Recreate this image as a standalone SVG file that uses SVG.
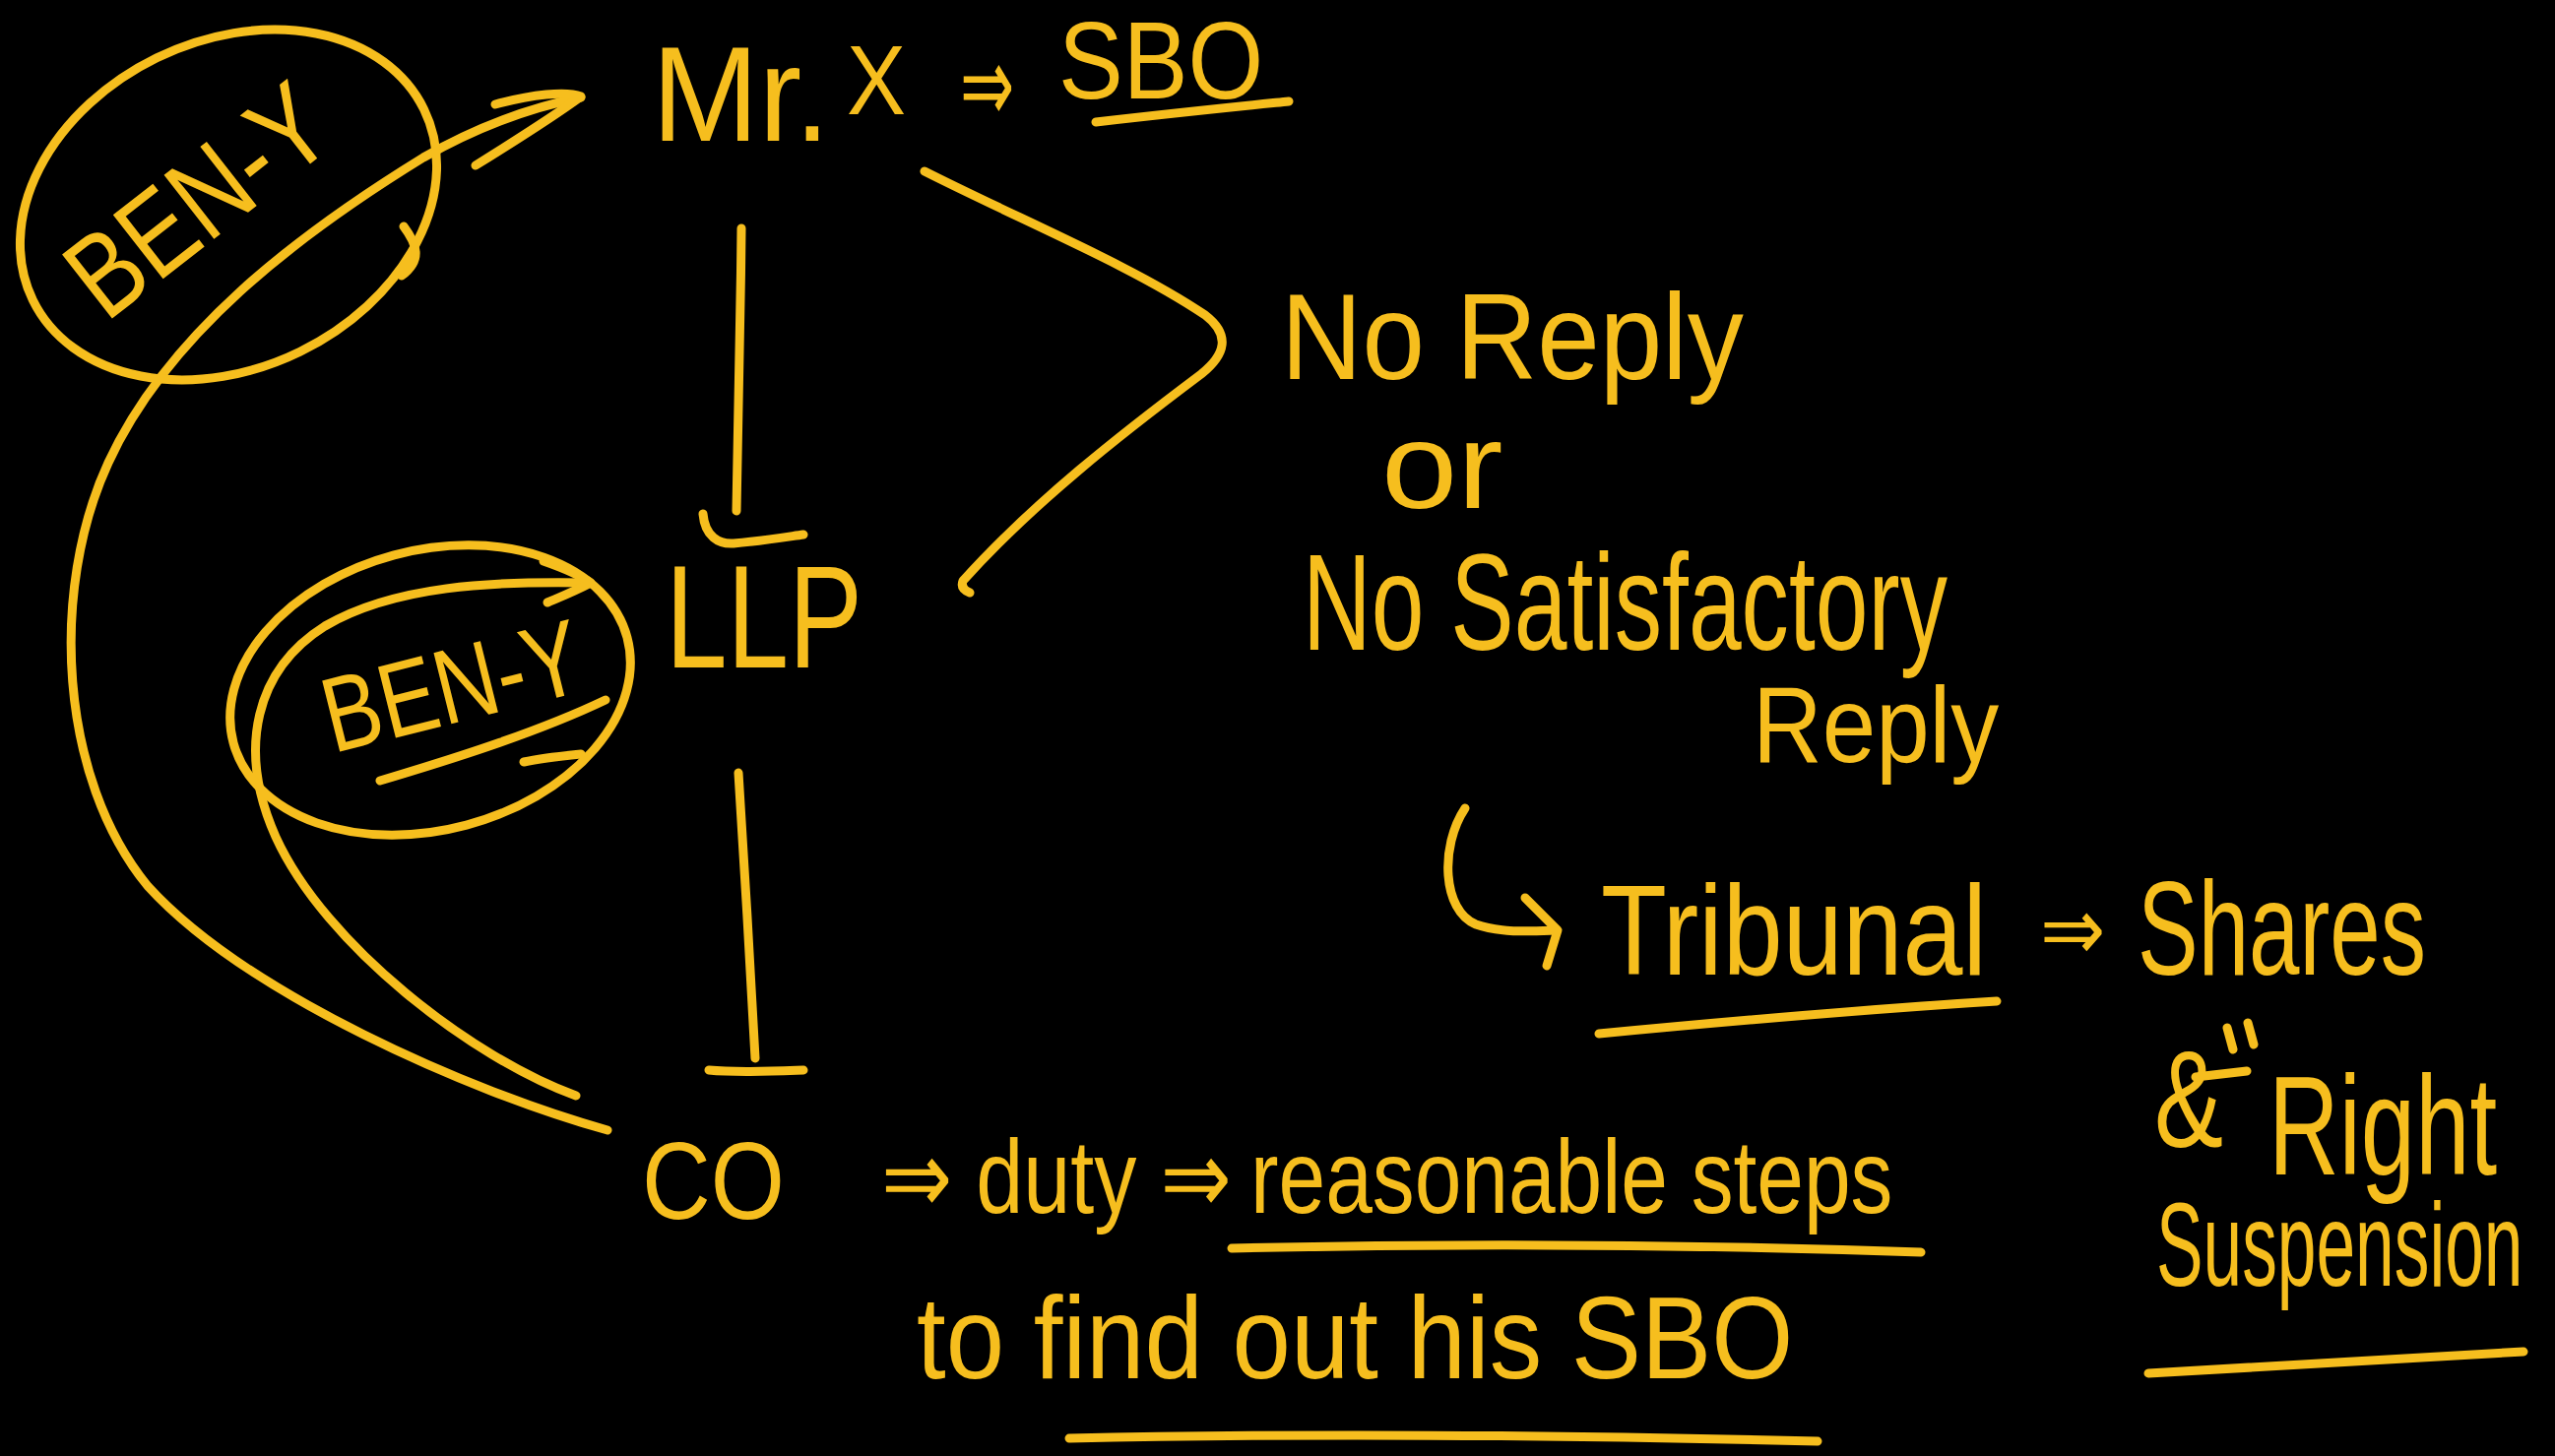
<svg xmlns="http://www.w3.org/2000/svg" width="2595" height="1479" viewBox="0 0 2595 1479">
  <style>
    .ink { fill: none; stroke: #F6BE1E; stroke-width: 9; stroke-linecap: round; stroke-linejoin: round; }
    .hand { fill: #F6BE1E; font-family: "Liberation Sans", "DejaVu Sans", sans-serif; font-weight: 400; }
  </style>
  <rect x="0" y="0" width="2595" height="1479" fill="#000000"/>

  <!-- connectors: ownership chain, brackets and pointer arrows -->
  <g id="connectors">
    <!-- Mr. X down to LLP -->
    <path class="ink" d="M753,232 C752,330 750,430 748,519"/>
    <path class="ink" d="M714,522 C716,545 730,553 745,552 C770,550 795,546 816,543"/>
    <!-- LLP down to CO -->
    <path class="ink" d="M750,785 C756,880 762,980 767,1075"/>
    <path class="ink" d="M720,1087 C750,1090 790,1088 816,1087"/>
    <!-- long curve from CO up to Mr. X -->
    <path class="ink" d="M617,1148 C480,1110 250,1010 150,900 C60,790 50,600 110,470 C170,340 300,240 430,160 C500,120 560,105 590,99"/>
    <path class="ink" d="M503,106 C540,96 575,92 590,98 C560,120 520,145 483,168"/>
    <!-- inner curve from CO up to LLP -->
    <path class="ink" d="M585,1113 C480,1075 330,960 280,850 C240,760 260,680 330,636 C400,595 500,590 599,592"/>
    <path class="ink" d="M552,570 C575,578 590,585 600,592 C585,600 570,606 556,612"/>
    <!-- bracket from Mr. X / LLP to the reply outcomes -->
    <path class="ink" d="M939,174 C1040,225 1150,270 1224,320 C1250,340 1245,360 1220,380 C1140,440 1050,510 978,590 Q975,598 985,602"/>
    <!-- hook arrow to Tribunal -->
    <path class="ink" d="M1488,821 C1462,860 1465,925 1499,939 C1525,948 1555,946 1580,945"/>
    <path class="ink" d="M1549,912 L1582,945 L1571,981"/>
  </g>

  <!-- beneficial owner, top -->
  <g id="ben-y-top">
    <ellipse class="ink" cx="232" cy="208" rx="221" ry="166" transform="rotate(-26 232 208)"/>
    <path class="ink" d="M410,230 C425,250 428,265 408,280"/>
    <text class="hand" font-size="120" text-anchor="middle" transform="translate(226 236) rotate(-38) scale(0.82 1)">BEN-Y</text>
  </g>

  <!-- beneficial owner, bottom -->
  <g id="ben-y-bottom">
    <ellipse class="ink" cx="437" cy="701" rx="207" ry="142" transform="rotate(-15 437 701)"/>
    <path class="ink" d="M532,774 C550,770 570,768 590,766"/>
    <text class="hand" font-size="108" text-anchor="middle" transform="translate(468 733) rotate(-14) scale(0.81 1)">BEN-Y</text>
    <path class="ink" d="M386,793 C470,768 550,742 615,711"/>
  </g>

  <!-- Mr. X => SBO -->
  <g id="mr-x">
    <text class="hand" font-size="138" transform="translate(662 143) scale(0.945 1)">Mr.</text>
    <text class="hand" font-size="100" transform="translate(860 116) scale(0.9 1)">X</text>
    <text class="hand" font-size="110" transform="translate(975 124) scale(0.6 1)">⇒</text>
    <text class="hand" font-size="112" transform="translate(1075 100) scale(0.88 1)">SBO</text>
    <path class="ink" d="M1113,124 C1200,114 1260,108 1309,103"/>
  </g>

  <!-- LLP -->
  <g id="llp">
    <text class="hand" font-size="148" transform="translate(676 678) scale(0.76 1)">LLP</text>
  </g>

  <!-- CO with its duty -->
  <g id="co">
    <text class="hand" font-size="112" transform="translate(652 1238) scale(0.863 1)">CO</text>
    <text class="hand" font-size="105" transform="translate(895 1232) scale(0.822 1)">⇒ duty ⇒</text>
    <text class="hand" font-size="105" transform="translate(1270 1232) scale(0.816 1)">reasonable steps</text>
    <path class="ink" d="M1251,1268 C1500,1262 1750,1265 1951,1272"/>
    <text class="hand" font-size="118" transform="translate(931 1400) scale(0.905 1)">to find out his SBO</text>
    <path class="ink" d="M1086,1461 C1350,1455 1600,1458 1846,1464"/>
  </g>

  <!-- reply outcomes -->
  <g id="reply">
    <text class="hand" font-size="125" transform="translate(1301 385) scale(0.914 1)">No Reply</text>
    <text class="hand" font-size="124" transform="translate(1403 516) scale(1.12 1)">or</text>
    <text class="hand" font-size="140" transform="translate(1323 660) scale(0.69 1)">No Satisfactory</text>
    <text class="hand" font-size="110" transform="translate(1780 774) scale(0.89 1)">Reply</text>
  </g>

  <!-- Tribunal outcome -->
  <g id="tribunal">
    <text class="hand" font-size="130" transform="translate(1626 990) scale(0.843 1)">Tribunal</text>
    <path class="ink" d="M1624,1050 C1750,1038 1900,1025 2028,1017"/>
    <text class="hand" font-size="90" transform="translate(2072 975) scale(0.88 1)">⇒</text>
    <text class="hand" font-size="135" transform="translate(2171 990) scale(0.685 1)">Shares</text>
    <text class="hand" font-size="140" transform="translate(2188 1165) scale(0.75 1)">&amp;</text>
    <path class="ink" d="M2262,1044 L2268,1066 M2283,1039 L2289,1061 M2230,1094 L2282,1088"/>
    <text class="hand" font-size="142" transform="translate(2304 1193) scale(0.7 1)">Right</text>
    <text class="hand" font-size="120" transform="translate(2190 1306) scale(0.594 1)">Suspension</text>
    <path class="ink" d="M2182,1395 C2350,1385 2470,1378 2563,1373"/>
  </g>
</svg>
